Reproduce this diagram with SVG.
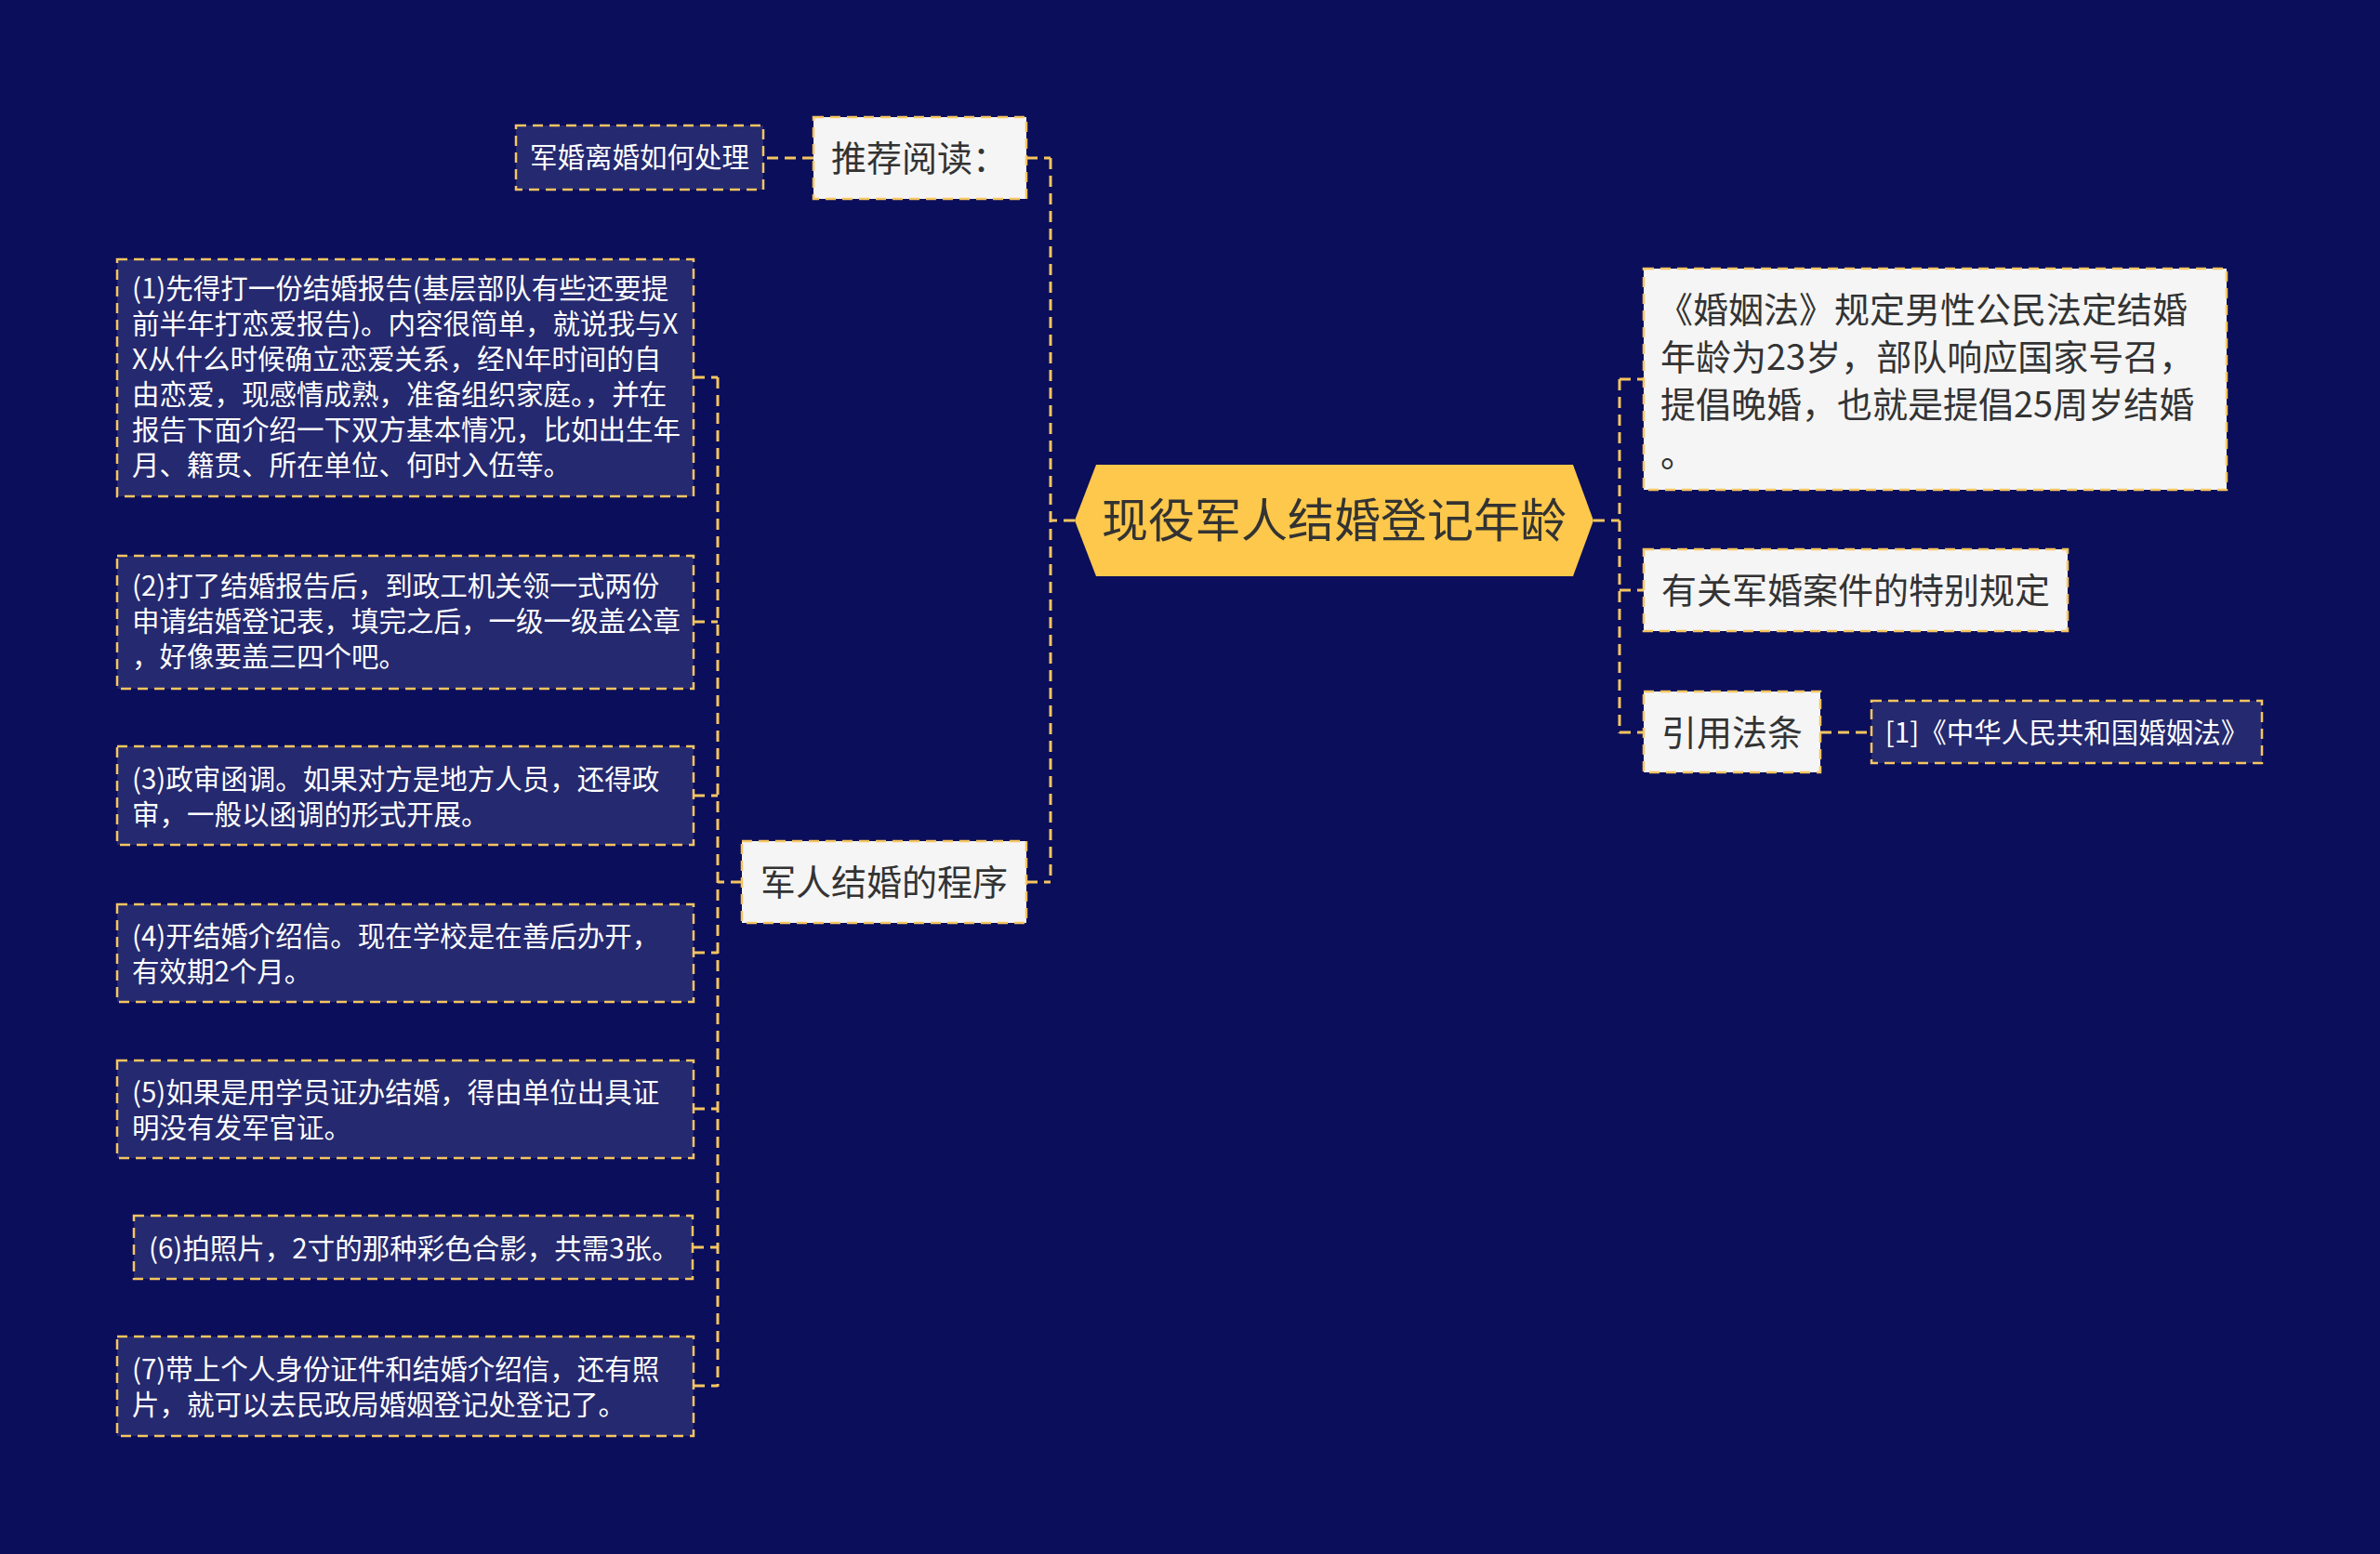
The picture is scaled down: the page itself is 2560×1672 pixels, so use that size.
<svg xmlns="http://www.w3.org/2000/svg" width="2560" height="1672" viewBox="0 0 2560 1672">
<style>
text{font-family:"Noto Sans CJK SC","Noto Sans",sans-serif;}
.dk rect{fill:#25296f;stroke:#f5c560;stroke-width:2.5;stroke-dasharray:11 7;}
.lt rect{fill:#f5f5f5;stroke:#f5c560;stroke-width:2.5;stroke-dasharray:11 7;}
.dk text{fill:#ffffff;font-size:29.5px;}
.lt text{fill:#333333;font-size:38px;}
.conn path{fill:none;stroke:#f5c560;stroke-width:3;stroke-dasharray:12 7;}
</style>
<rect width="2560" height="1672" fill="#0b0e5a"/>
<g class="conn">
<path d="M1156 560 H1130 M1130 170 V949 M1104 170 H1130 M1104 949 H1130"/>
<path d="M875 170 H821"/>
<path d="M798 949 H772 M772 406 V1492 M746 406 H772 M746 669 H772 M746 856 H772 M746 1025 H772 M746 1193 H772 M745 1342 H772 M746 1491 H772"/>
<path d="M1714 560 H1742 M1742 408 V789 M1742 408 H1768 M1742 635 H1768 M1742 788 H1768"/>
<path d="M1958 788 H2013"/>
</g>
<g id="root">
<polygon points="1156,560 1179,500 1692,500 1714,560 1692,620 1179,620" fill="#fdc84b"/>
<text x="1435" y="578" text-anchor="middle" font-size="50" fill="#333333">现役军人结婚登记年龄</text>
</g>
<g id="n-tuijian" class="lt">
<rect x="875" y="126" width="229" height="88"/>
<text x="894" y="184">推荐阅读：</text>
</g>
<g id="n-junhunlihun" class="dk">
<rect x="555" y="135" width="266" height="69"/>
<text x="688" y="180" text-anchor="middle">军婚离婚如何处理</text>
</g>
<g id="n-chengxu" class="lt">
<rect x="798" y="905" width="306" height="88"/>
<text x="951" y="963" text-anchor="middle">军人结婚的程序</text>
</g>
<g id="n-step1" class="dk">
<rect x="126" y="279" width="620" height="255"/>
<text x="142" y="321">(1)先得打一份结婚报告(基层部队有些还要提</text>
<text x="142" y="359">前半年打恋爱报告)。内容很简单，就说我与X</text>
<text x="142" y="397">X从什么时候确立恋爱关系，经N年时间的自</text>
<text x="142" y="435">由恋爱，现感情成熟，准备组织家庭。，并在</text>
<text x="142" y="473">报告下面介绍一下双方基本情况，比如出生年</text>
<text x="142" y="511">月、籍贯、所在单位、何时入伍等。</text>
</g>
<g id="n-step2" class="dk">
<rect x="126" y="598" width="620" height="143"/>
<text x="142" y="641">(2)打了结婚报告后，到政工机关领一式两份</text>
<text x="142" y="679">申请结婚登记表，填完之后，一级一级盖公章</text>
<text x="142" y="717">，好像要盖三四个吧。</text>
</g>
<g id="n-step3" class="dk">
<rect x="126" y="803" width="620" height="106"/>
<text x="142" y="849">(3)政审函调。如果对方是地方人员，还得政</text>
<text x="142" y="887">审，一般以函调的形式开展。</text>
</g>
<g id="n-step4" class="dk">
<rect x="126" y="973" width="620" height="105"/>
<text x="142" y="1018">(4)开结婚介绍信。现在学校是在善后办开，</text>
<text x="142" y="1056">有效期2个月。</text>
</g>
<g id="n-step5" class="dk">
<rect x="126" y="1141" width="620" height="105"/>
<text x="142" y="1186">(5)如果是用学员证办结婚，得由单位出具证</text>
<text x="142" y="1224">明没有发军官证。</text>
</g>
<g id="n-step6" class="dk">
<rect x="144" y="1308" width="601" height="68"/>
<text x="160" y="1354">(6)拍照片，2寸的那种彩色合影，共需3张。</text>
</g>
<g id="n-step7" class="dk">
<rect x="126" y="1438" width="620" height="107"/>
<text x="142" y="1484">(7)带上个人身份证件和结婚介绍信，还有照</text>
<text x="142" y="1522">片，就可以去民政局婚姻登记处登记了。</text>
</g>
<g id="n-hunyinfa" class="lt">
<rect x="1768" y="289" width="627" height="238"/>
<text x="1783" y="347">《婚姻法》规定男性公民法定结婚</text>
<text x="1786" y="398">年龄为23岁，部队响应国家号召，</text>
<text x="1786" y="449">提倡晚婚，也就是提倡25周岁结婚</text>
<text x="1786" y="502">。</text>
</g>
<g id="n-tebie" class="lt">
<rect x="1768" y="591" width="456" height="88"/>
<text x="1996" y="649" text-anchor="middle">有关军婚案件的特别规定</text>
</g>
<g id="n-yinyong" class="lt">
<rect x="1768" y="744" width="190" height="87"/>
<text x="1863" y="802" text-anchor="middle">引用法条</text>
</g>
<g id="n-fa" class="dk">
<rect x="2013" y="754" width="420" height="67"/>
<text x="2223" y="799" text-anchor="middle" font-size="28.5">[1]《中华人民共和国婚姻法》</text>
</g>
</svg>
